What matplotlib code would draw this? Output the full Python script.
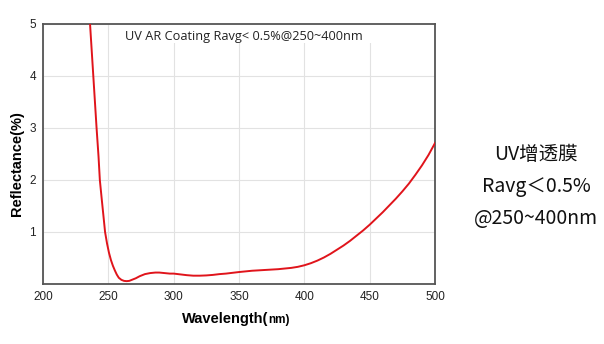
import matplotlib
matplotlib.use('Agg')
import matplotlib.pyplot as plt
from matplotlib.patches import Rectangle

# values
wavelength = [236, 237, 238.5, 240, 241, 242.5, 243.5, 245, 246.5, 247.5, 249, 250.5, 252,
              253.5, 255, 256.5, 258, 260, 262, 264, 266, 268, 271, 274, 278, 282, 286,
              289, 293, 297, 300, 305, 310, 315, 320, 325, 330, 335, 340, 350, 360, 370,
              380, 390, 395, 400, 405, 410, 415, 420, 425, 430, 435, 440, 445, 450, 455,
              460, 465, 470, 475, 480, 485, 490, 495, 500]
reflectance = [5.0, 4.6, 4.0, 3.4, 3.0, 2.45, 2.0, 1.62, 1.25, 1.0, 0.78, 0.6, 0.46,
               0.35, 0.26, 0.18, 0.12, 0.08, 0.06, 0.055, 0.06, 0.08, 0.11, 0.15, 0.19, 0.21, 0.22,
               0.22, 0.21, 0.2, 0.2, 0.185, 0.17, 0.16, 0.16, 0.165, 0.175, 0.19, 0.2, 0.23, 0.255, 0.27,
               0.285, 0.31, 0.33, 0.36, 0.4, 0.45, 0.51, 0.58, 0.66, 0.74, 0.83, 0.93, 1.03, 1.14, 1.26,
               1.38, 1.51, 1.64, 1.78, 1.93, 2.1, 2.28, 2.48, 2.71]

xticks = [200, 250, 300, 350, 400, 450, 500]
yticks = [1, 2, 3, 4, 5]
side_lines = ['UV增透膜', 'Ravg\uff1c0.5%', '@250~400nm']

fig = plt.figure(figsize=(6.04, 3.44), dpi=100)
ax = fig.add_axes([43/604, 60/344, 392/604, 260/344])

ax.plot(wavelength, reflectance, color='#e0141b', lw=1.4, zorder=3)
ax.set_xlim(200, 500)
ax.set_ylim(0, 5)
ax.set_xticks(xticks)
ax.set_yticks(yticks)
ax.tick_params(length=0, labelsize=8.5, pad=5, colors='#222222')
for lab in ax.get_xticklabels() + ax.get_yticklabels():
    lab.set_family('Liberation Sans')
ax.grid(color='#e2e2e2', lw=0.8)
ax.set_axisbelow(True)
for s in ax.spines.values():
    s.set_color('#555555')
    s.set_linewidth(1.3)

# white box under the title hides the grid
ax.add_patch(Rectangle((251, 4.63), 249, 0.37, facecolor='white', edgecolor='none', zorder=1))
ax.text(262.5, 4.76, 'UV AR Coating Ravg< 0.5%@250~400nm', fontsize=9.2,
        family='Open Sans', va='center', ha='left', color='#222222', zorder=4)

fig.text(17/604, 1 - 164/344, 'Reflectance(%)', fontsize=10.5, fontweight='bold',
         family='Liberation Sans', rotation=90, ha='center', va='center')
fig.text(268/604, 1 - 319/344, 'Wavelength(', fontsize=10.5, fontweight='bold',
         family='Liberation Sans', ha='right', va='center')
fig.text(268/604, 1 - 320/344, 'nm)', fontsize=8.5, fontweight='bold',
         family='Liberation Sans', ha='left', va='center')

for i, t in enumerate(side_lines):
    fig.text(536/604, 1 - (155 + 31.5 * i)/344, t, fontsize=14,
             family=['Noto Sans CJK SC', 'DejaVu Sans'], ha='center', va='center', color='#111111')

fig.savefig('out.png', dpi=100)
